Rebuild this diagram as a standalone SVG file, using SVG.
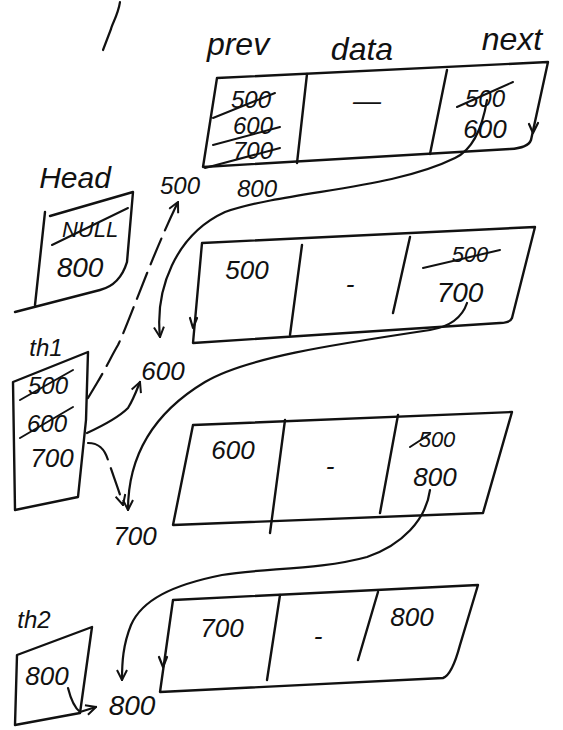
<svg xmlns="http://www.w3.org/2000/svg" width="563" height="730" viewBox="0 0 563 730">
<style>
.bx{fill:none;stroke:#111;stroke-width:2.4;stroke-linejoin:round;stroke-linecap:round}
.ln{fill:none;stroke:#111;stroke-width:2.2;stroke-linecap:round;stroke-linejoin:round}
.dash{stroke-dasharray:28 9}
.t{font-family:"Liberation Sans","DejaVu Sans",sans-serif;font-style:italic;fill:#111;text-anchor:middle}
.s{stroke:#111;stroke-width:2;stroke-linecap:round}
</style>
<defs>
<marker id="arr" viewBox="0 0 12 12" refX="11" refY="6" markerWidth="12" markerHeight="12" markerUnits="userSpaceOnUse" orient="auto">
<path d="M1,1 L11,6 L1,11" fill="none" stroke="#111" stroke-width="2"/>
</marker>
</defs>
<rect width="563" height="730" fill="#fff"/>
<path class="ln" d="M120,2 C118,15 112,24 111,29 L103,50"/>
<g id="labels">
<text class="t" x="238" y="55" font-size="32">prev</text>
<text class="t" x="362" y="60" font-size="32">data</text>
<text class="t" x="512" y="50" font-size="32">next</text>
</g>
<g id="node1">
<path class="bx" d="M217,78 L548,62 L531,140 Q528,148 510,149 L203,167 Z"/>
<path class="bx" d="M307,74 L297,163 M447,70 L430,154"/>
<path class="ln" d="M529,124 L533,133 L538,123"/>
<text class="t" x="251" y="108" font-size="24">500</text>
<line class="s" x1="213" y1="118" x2="275" y2="93"/>
<text class="t" x="253" y="134" font-size="24">600</text>
<line class="s" x1="213" y1="145" x2="280" y2="127"/>
<text class="t" x="253" y="159" font-size="24">700</text>
<line class="s" x1="205" y1="168" x2="280" y2="148"/>
<text class="t" x="367" y="110" font-size="28">—</text>
<text class="t" x="485" y="107" font-size="24">500</text>
<line class="s" x1="457" y1="107" x2="513" y2="82"/>
<text class="t" x="485" y="138" font-size="26">600</text>
<text class="t" x="257" y="197" font-size="24">800</text>
</g>
<g id="head">
<text class="t" x="75" y="188" font-size="30">Head</text>
<path class="bx" d="M50,216 L133,192 L127,262 Q120,285 100,290 L15,312 M45,212 L35,305"/>
<text class="t" x="90" y="237" font-size="22">NULL</text>
<line class="s" x1="52" y1="245" x2="128" y2="208"/>
<text class="t" x="80" y="277" font-size="28">800</text>
</g>
<g id="node2">
<path class="bx" d="M202,243 L535,227 L512,318 Q510,323 500,323 L193,343 Z"/>
<path class="bx" d="M302,245 L290,335 M410,237 L393,313"/>
<path class="ln" d="M190,318 L193,328 L197,318"/>
<text class="t" x="247" y="279" font-size="26">500</text>
<text class="t" x="350" y="293" font-size="26">-</text>
<text class="t" x="470" y="262" font-size="22">500</text>
<line class="s" x1="423" y1="268" x2="500" y2="250"/>
<text class="t" x="460" y="302" font-size="28">700</text>
</g>
<g id="th1">
<text class="t" x="46" y="356" font-size="24">th1</text>
<path class="bx" d="M13,382 L88,352 L86,420 L78,497 L15,510 Z"/>
<text class="t" x="48" y="394" font-size="24">500</text>
<line class="s" x1="20" y1="400" x2="73" y2="370"/>
<text class="t" x="47" y="432" font-size="24">600</text>
<line class="s" x1="20" y1="438" x2="73" y2="407"/>
<text class="t" x="52" y="467" font-size="26">700</text>
</g>
<g id="node3">
<path class="bx" d="M193,425 L512,412 L483,513 L173,525 Z"/>
<path class="bx" d="M285,420 L270,533 M398,415 L380,513"/>
<text class="t" x="233" y="459" font-size="26">600</text>
<text class="t" x="330" y="475" font-size="26">-</text>
<text class="t" x="437" y="447" font-size="22">500</text>
<line class="s" x1="410" y1="447" x2="430" y2="434"/>
<text class="t" x="435" y="486" font-size="26">800</text>
</g>
<g id="th2">
<text class="t" x="34" y="628" font-size="24">th2</text>
<path class="bx" d="M17,655 L92,627 L80,713 L15,725 Z"/>
<text class="t" x="47" y="685" font-size="26">800</text>
</g>
<g id="node4">
<path class="bx" d="M173,600 L478,585 L460,645 Q452,675 443,678 L160,692 Z"/>
<path class="bx" d="M280,595 L267,680 M378,592 L358,660"/>
<path class="ln" d="M159,657 L163,667 L167,657"/>
<text class="t" x="222" y="637" font-size="26">700</text>
<text class="t" x="318" y="645" font-size="26">-</text>
<text class="t" x="412" y="626" font-size="26">800</text>
</g>
<g id="free-labels">
<text class="t" x="180" y="194" font-size="24">500</text>
<text class="t" x="163" y="380" font-size="26">600</text>
<text class="t" x="135" y="545" font-size="26">700</text>
<text class="t" x="132" y="715" font-size="28">800</text>
</g>
<g id="connectors">
<path class="ln" marker-end="url(#arr)" d="M487,100 C482,130 472,150 455,158 C390,190 290,190 225,212 C175,235 155,290 160,337"/>
<path class="ln dash" marker-end="url(#arr)" d="M88,398 L97,383 C105,370 112,355 118,345 C130,320 150,260 178,202"/>
<path class="ln" marker-end="url(#arr)" d="M87,433 C100,427 118,418 128,408 C133,400 136,392 140,382"/>
<path class="ln" marker-end="url(#arr)" d="M467,303 C462,318 448,327 430,330 C330,345 245,358 205,382 C155,412 128,455 128,510"/>
<path class="ln dash" marker-end="url(#arr)" d="M88,443 C100,443 105,450 108,460 C114,478 119,490 123,505"/>
<path class="ln" marker-end="url(#arr)" d="M430,490 C426,520 402,545 367,557 C320,570 262,568 222,575 C172,585 142,600 131,625 C123,645 122,662 122,680"/>
<path class="ln" marker-end="url(#arr)" d="M68,688 C71,700 75,708 80,712 L96,707"/>
</g>
</svg>
